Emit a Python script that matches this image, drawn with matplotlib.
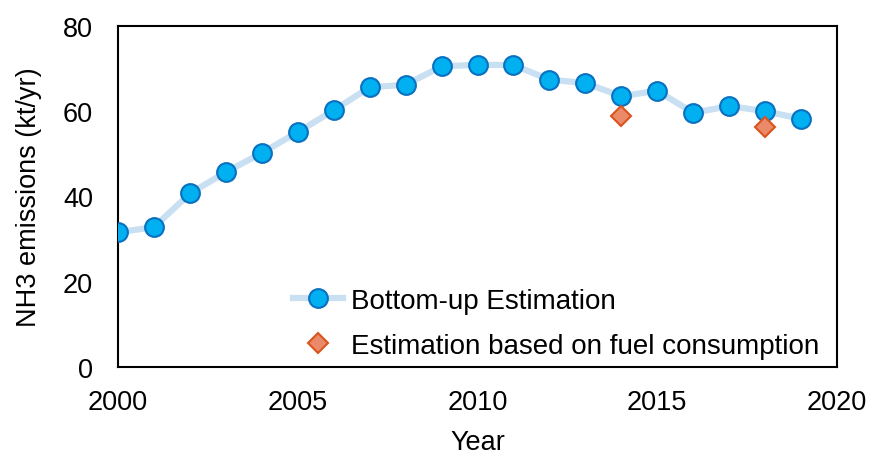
import matplotlib.pyplot as plt

plt.rcParams['font.family'] = ['Liberation Sans', 'DejaVu Sans']

# Bottom-up estimation, 2000-2019
years = list(range(2000, 2020))
bottom_up = [31.6, 32.8, 40.7, 45.7, 50.2, 55.1, 60.2, 65.6, 66.2, 70.5,
             70.9, 70.8, 67.4, 66.6, 63.5, 64.8, 59.6, 61.2, 60.0, 58.2]

# Estimation based on fuel consumption
fuel_years = [2014, 2018]
fuel_vals = [58.8, 56.4]

fig = plt.figure(figsize=(8.71, 4.56), dpi=100)
ax = fig.add_axes([0.1355, 0.193, 0.8255, 0.748])

ax.plot(years, bottom_up, color='#c9dff2', lw=4.5, marker='o', ms=13.5,
        mfc='#00b0f0', mec='#0a70c0', mew=1.5, label='Bottom-up Estimation', zorder=3)
ax.plot(fuel_years, fuel_vals, ls='none', marker='D', ms=10,
        mfc='#ea8a68', mec='#d9541e', mew=1.5,
        label='Estimation based on fuel consumption', zorder=4)

ax.set_xlim(2000, 2020)
ax.set_ylim(0, 80)
ax.set_xticks([2000, 2005, 2010, 2015, 2020])
ax.set_yticks([0, 20, 40, 60, 80])
ax.tick_params(axis='x', length=0, labelsize=19.5, pad=16)
ax.tick_params(axis='y', length=0, labelsize=19.5, pad=18)
for s in ax.spines.values():
    s.set_linewidth(1.5)

ax.set_xlabel('Year', fontsize=19.5, labelpad=10)
ax.set_ylabel('NH3 emissions (kt/yr)', fontsize=19.5, labelpad=15)

ax.legend(loc='lower right', bbox_to_anchor=(1.01, -0.05), frameon=False,
          fontsize=20, handlelength=1.8, handletextpad=0.3, labelspacing=0.7)

fig.savefig('out.png', dpi=100)
